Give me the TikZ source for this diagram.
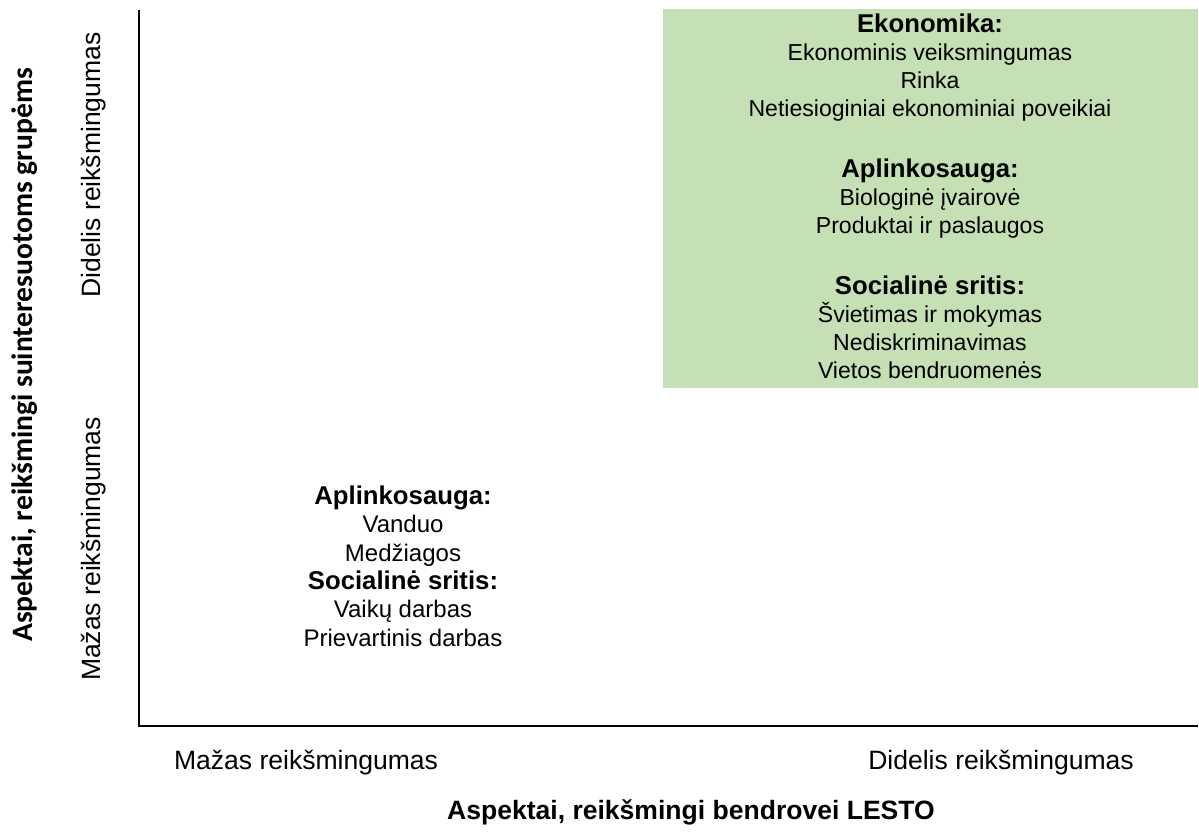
\documentclass[tikz,border=0pt]{standalone}
\usepackage{fontspec}
\setmainfont{Liberation Sans}
\newfontfamily\calibri{Carlito}
\definecolor{lightgreen}{HTML}{C5E0B4}
\tikzset{
  grp/.style={align=center, inner sep=0pt, font=\fontsize{17.3}{21}\selectfont},
  axlabel/.style={inner sep=0pt, font=\fontsize{19.9}{24}\selectfont},
}
\newcommand{\hd}[1]{{\fontsize{19.3}{21}\selectfont\bfseries #1}}
\begin{document}
\begin{tikzpicture}[x=0.75pt,y=-0.75pt]
  \useasboundingbox (0,0) rectangle (1199,836);

  % axes
  \coordinate (O) at (139,726);
  \coordinate (A) at (139,10);
  \coordinate (B) at (1198,726);

  % green quadrant
  \fill[lightgreen] (663,9) rectangle (1198,388);

  \draw[line width=1.5pt] (A) -- (O) -- (B);

  % high / high
  \def\cx{930} % center of green box
  \node[grp] (ekon) at (\cx,68) {\hd{Ekonomika:}\\ Ekonominis veiksmingumas\\ Rinka\\ Netiesioginiai ekonominiai poveikiai};
  \node[grp] (aplink) at (\cx,199) {\hd{Aplinkosauga:}\\ Biologinė įvairovė\\ Produktai ir paslaugos};
  \node[grp] (social) at (\cx,327) {\hd{Socialinė sritis:}\\ Švietimas ir mokymas\\ Nediskriminavimas\\ Vietos bendruomenės};

  % low / low
  \node[grp, font=\fontsize{18}{21.3}\selectfont] (low) at (403,566) {\hd{Aplinkosauga:}\\ Vanduo\\ Medžiagos\\ \hd{Socialinė sritis:}\\ Vaikų darbas\\ Prievartinis darbas};

  % x labels
  \node[axlabel] (xlow) at (306,763) {Mažas reikšmingumas};
  \node[axlabel] (xhigh) at (1001,763) {Didelis reikšmingumas};
  \node[axlabel, font=\fontsize{19.9}{24}\selectfont\bfseries] (xtitle) at (691,812) {Aspektai, reikšmingi bendrovei LESTO};

  % y labels
  \node[axlabel, rotate=90] (yhigh) at (94,165) {Didelis reikšmingumas};
  \node[axlabel, rotate=90] (ylow) at (94,549) {Mažas reikšmingumas};
  \node[inner sep=0pt, rotate=90, font=\calibri\fontsize{22.2}{26}\selectfont\bfseries] (ytitle) at (25,355) {Aspektai, reikšmingi suinteresuotoms grupėms};
\end{tikzpicture}
\end{document}
